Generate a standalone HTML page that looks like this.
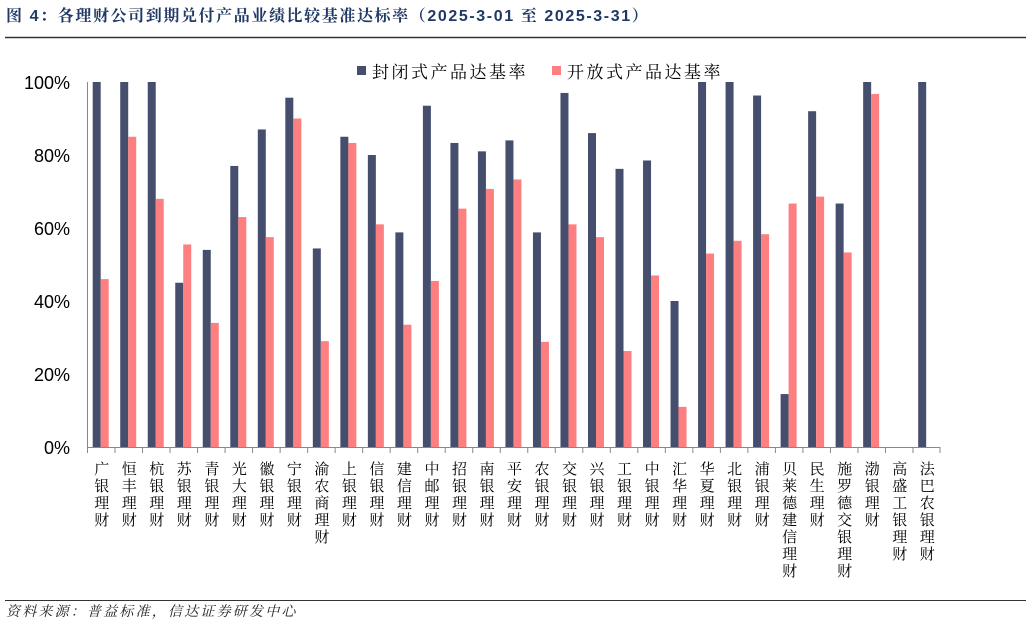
<!DOCTYPE html><html><head><meta charset="utf-8"><style>
body{margin:0;width:1031px;height:624px;background:#fff;overflow:hidden;font-family:"Liberation Sans","Noto Serif CJK SC",serif}
</style></head><body>
<svg width="1031" height="624" xmlns="http://www.w3.org/2000/svg" font-family="Liberation Sans, Noto Serif CJK SC, serif">
<text x="6" y="21" font-size="16" font-weight="bold" fill="#1f3864" letter-spacing="1.6">图 4：各理财公司到期兑付产品业绩比较基准达标率（2025-3-01 至 2025-3-31）</text>
<line x1="5" y1="37.5" x2="1026" y2="37.5" stroke="#333" stroke-width="1.5"/>
<line x1="5" y1="600.5" x2="1026" y2="600.5" stroke="#333" stroke-width="1"/>
<text x="6" y="616" font-size="14" font-style="italic" fill="#222" letter-spacing="2.2">资料来源：普益标准，信达证券研发中心</text>
<g font-size="18" fill="#000" text-anchor="end">
<text x="70" y="89">100%</text><text x="70" y="162">80%</text><text x="70" y="235">60%</text><text x="70" y="308">40%</text><text x="70" y="381">20%</text><text x="70" y="454">0%</text>
</g>
<rect x="357" y="66" width="9" height="9" fill="#464e6e"/><text x="372" y="78" font-size="17" letter-spacing="2.5">封闭式产品达基率</text>
<rect x="552" y="66" width="9" height="9" fill="#fe7f7f"/><text x="567" y="78" font-size="17" letter-spacing="2.5">开放式产品达基率</text>
<line x1="87.5" y1="82" x2="87.5" y2="447" stroke="#888"/>
<g id="bars"></g>
<line x1="87" y1="447.5" x2="940" y2="447.5" stroke="#888"/>
<g id="ticks" stroke="#888"></g>
<g id="labels" font-size="15" text-anchor="middle"></g>
</svg>
<script>
var names=["广银理财","恒丰理财","杭银理财","苏银理财","青银理财","光大理财","徽银理财","宁银理财","渝农商理财","上银理财","信银理财","建信理财","中邮理财","招银理财","南银理财","平安理财","农银理财","交银理财","兴银理财","工银理财","中银理财","汇华理财","华夏理财","北银理财","浦银理财","贝莱德建信理财","民生理财","施罗德交银理财","渤银理财","高盛工银理财","法巴农银理财"];
var d=[100,100,100,45,54,77,87,95.7,54.4,85,80,58.8,93.5,83.3,81,84,58.8,97,86,76.2,78.5,40,100,100,96.3,14.5,92,66.7,100,0,100];
var p=[46,85,68,55.5,34,63,57.5,90,29,83.3,61,33.5,45.5,65.3,70.7,73.3,28.8,61,57.5,26.3,47,11,53,56.5,58.3,66.7,68.6,53.3,96.7,0,0];
var ns="http://www.w3.org/2000/svg",b=document.getElementById("bars"),t=document.getElementById("ticks"),l=document.getElementById("labels");
var w=853/31;
function el(g,n,a){var e=document.createElementNS(ns,n);for(var k in a)e.setAttribute(k,a[k]);g.appendChild(e);return e;}
for(var i=0;i<31;i++){var x0=87+i*w;
if(d[i]>0){var h=d[i]*3.65;el(b,"rect",{x:x0+5.7,y:447-h,width:8,height:h,fill:"#464e6e"});}
if(p[i]>0){var h=p[i]*3.65;el(b,"rect",{x:x0+13.7,y:447-h,width:8,height:h,fill:"#fe7f7f"});}
el(t,"line",{x1:x0+0.5,y1:447,x2:x0+0.5,y2:453});
for(var j=0;j<names[i].length;j++){var tx=el(l,"text",{x:x0+w/2+1,y:474+j*17});tx.textContent=names[i][j];}
}
el(t,"line",{x1:940,y1:447,x2:940,y2:453});
</script>
</body></html>
